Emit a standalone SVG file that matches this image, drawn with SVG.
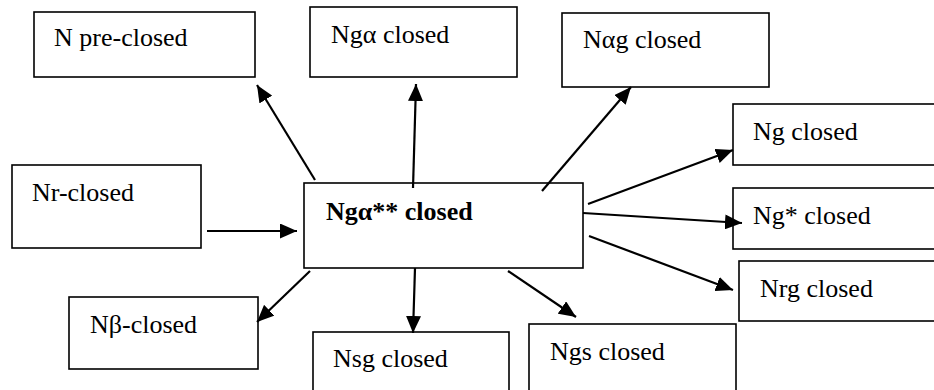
<svg xmlns="http://www.w3.org/2000/svg" width="934" height="390" viewBox="0 0 934 390">
<style>
.box{fill:#fff;stroke:#000;stroke-width:1.6}
text{font-family:'Liberation Serif','Times New Roman',serif;font-size:26px;fill:#000}
.b{font-weight:bold}
.c{stroke:#000;stroke-width:2.2;fill:none;marker-end:url(#ah)}
</style>
<defs>
<marker id="ah" viewBox="0 0 17 15" refX="17" refY="7.5" markerWidth="17" markerHeight="15" markerUnits="userSpaceOnUse" orient="auto">
<path d="M0,0 L17,7.5 L0,15 z" fill="#000"/>
</marker>
</defs>
<rect width="934" height="390" fill="#fff"/>
<g font-family="Liberation Serif, Times New Roman, serif" font-size="26">
<g id="n-pre"><rect class="box" x="34" y="12" width="221" height="65"/><text x="54" y="46">N pre-closed</text></g>
<g id="n-ga"><rect class="box" x="310" y="7" width="207" height="70"/><text x="331" y="43">Ngα closed</text></g>
<g id="n-ag"><rect class="box" x="562" y="13" width="207" height="74"/><text x="583" y="48">Nαg closed</text></g>
<g id="n-g"><rect class="box" x="733" y="104" width="220" height="61"/><text x="753" y="140">Ng closed</text></g>
<g id="n-gstar"><rect class="box" x="733" y="188" width="220" height="61"/><text x="753" y="224">Ng* closed</text></g>
<g id="n-rg"><rect class="box" x="739" y="261" width="220" height="60"/><text x="760" y="297">Nrg closed</text></g>
<g id="n-center"><rect class="box" x="304" y="183" width="279" height="85"/><text class="b" x="326" y="220">Ngα** closed</text></g>
<g id="n-r"><rect class="box" x="12" y="165" width="189" height="83"/><text x="32" y="201">Nr-closed</text></g>
<g id="n-beta"><rect class="box" x="69" y="297" width="189" height="72"/><text x="90" y="333">Nβ-closed</text></g>
<g id="n-sg"><rect class="box" x="313" y="332" width="196" height="70"/><text x="333" y="367">Nsg closed</text></g>
<g id="n-gs"><rect class="box" x="529" y="324" width="207" height="70"/><text x="550" y="360">Ngs closed</text></g>
</g>
<g id="connectors">
<line class="c" x1="315" y1="180" x2="257" y2="85"/>
<line class="c" x1="413" y1="188" x2="416" y2="84"/>
<line class="c" x1="542" y1="191" x2="631" y2="87"/>
<line class="c" x1="588" y1="204" x2="733" y2="150"/>
<line class="c" x1="583" y1="213" x2="742" y2="223"/>
<line class="c" x1="589" y1="236" x2="733" y2="290"/>
<line class="c" x1="207" y1="231" x2="297" y2="231"/>
<line class="c" x1="310" y1="271" x2="257" y2="322"/>
<line class="c" x1="415" y1="268" x2="413" y2="333"/>
<line class="c" x1="508" y1="271" x2="576" y2="317"/>
</g>
</svg>
